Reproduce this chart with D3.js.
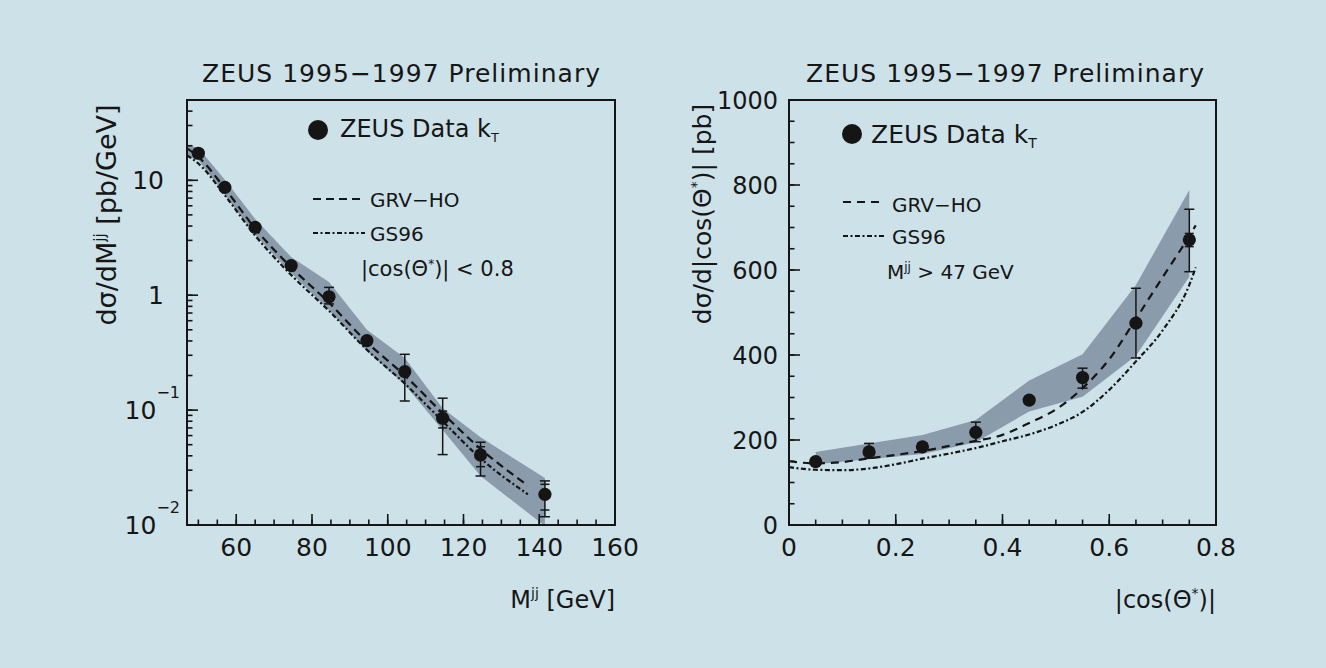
<!DOCTYPE html>
<html><head><meta charset="utf-8">
<script src="https://cdn.jsdelivr.net/npm/d3@7"></script>
<style>
html,body{margin:0;padding:0;background:#cde2e8;}
svg{display:block;}
text{font-family:"DejaVu Sans",sans-serif;fill:#161616;}
</style></head><body>
<svg id="c" width="1326" height="668"></svg>
<script>
// ---------- Left panel: d sigma / d M^jj ----------
const massBins   = [50, 57, 65, 74.5, 84.5, 94.5, 104.5, 114.5, 124.5, 141.5];
const massXsec   = [17.2, 8.69, 3.9, 1.81, 0.97, 0.402, 0.216, 0.085, 0.0407, 0.0185];
const massTotHi  = [18.4, 9.3, 4.15, 1.93, 1.17, 0.43, 0.306, 0.127, 0.0525, 0.0242];
const massTotLo  = [16.1, 8.1, 3.67, 1.70, 0.84, 0.375, 0.120, 0.041, 0.0267, 0.0118];
const massStatHi = [18.4, 9.3, 4.15, 1.93, 1.17, 0.43, 0.306, 0.098, 0.048, 0.0226];
const massStatLo = [16.1, 8.1, 3.67, 1.70, 0.84, 0.375, 0.120, 0.070, 0.0322, 0.0135];
const massBandX  = [47, 50, 57, 65, 74.5, 84.5, 94.5, 104.5, 114.5, 124.5, 141.5];
const massBandHi = [20.5, 19.1, 10.1, 4.6, 2.15, 1.30, 0.50, 0.284, 0.104, 0.058, 0.0256];
const massBandLo = [16.0, 15.0, 7.45, 3.34, 1.56, 0.74, 0.327, 0.166, 0.067, 0.0267, 0.0098];
const massCurveX = [47, 50, 57, 65, 74.5, 84.5, 94.5, 104.5, 114.5, 124.5, 137];
const massGRV    = [19, 16, 8.5, 3.8, 1.75, 0.86, 0.39, 0.2, 0.094, 0.046, 0.022];
const massGS96   = [16.5, 14, 7.4, 3.3, 1.5, 0.73, 0.335, 0.17, 0.08, 0.038, 0.0185];
const massTickLabels = [60, 80, 100, 120, 140, 160];
const xsecTickValues = [10, 1, 0.1, 0.01];
const xsecTickBase   = ["10", "1", "10", "10"];
const xsecTickExp    = ["", "", "\u22121", "\u22122"];

// ---------- Right panel: d sigma / d|cos theta*| ----------
const angBins    = [0.05, 0.15, 0.25, 0.35, 0.45, 0.55, 0.65, 0.75];
const angXsec    = [149, 172, 184, 218, 294, 347, 475, 671];
const angTotHi   = [157, 192, 192, 242, 302, 369, 557, 743];
const angTotLo   = [141, 157, 176, 196, 286, 322, 393, 596];
const angStatHi  = [157, 192, 192, 242, 302, 369, 557, 686];
const angStatLo  = [141, 157, 176, 196, 286, 322, 393, 655];
const angBandHi  = [172, 192, 212, 247, 340, 402, 565, 788];
const angBandLo  = [143, 155, 167, 195, 267, 302, 398, 584];
const angCurveX  = [0, 0.05, 0.1, 0.15, 0.2, 0.25, 0.3, 0.35, 0.4, 0.45, 0.5, 0.55, 0.6, 0.65, 0.7, 0.75, 0.762];
const angGRV     = [150, 145, 148, 157, 165, 174, 186, 198, 212, 240, 272, 322, 390, 485, 583, 680, 705];
const angGS96    = [136, 130, 129, 133, 143, 156, 168, 181, 197, 213, 235, 266, 318, 385, 458, 565, 606];
const angTickLabels = ["0", "0.2", "0.4", "0.6", "0.8"];
const angTickValues = [0, 0.2, 0.4, 0.6, 0.8];
const xsecLinTicks  = [0, 200, 400, 600, 800, 1000];

const INK = "#151515", BAND = "#8a9bab";
const svg = d3.select("#c");

const xL = d3.scaleLinear().domain([47, 160]).range([187, 615]);
const yL = d3.scaleLog().domain([0.01, 50]).range([525, 100]);
const xR = d3.scaleLinear().domain([0, 0.8]).range([789, 1216]);
const yR = d3.scaleLinear().domain([0, 1000]).range([525, 100]);

const defs = svg.append("defs");
defs.append("clipPath").attr("id", "clipL").append("rect").attr("x", 187).attr("y", 100).attr("width", 428).attr("height", 425);
defs.append("clipPath").attr("id", "clipR").append("rect").attr("x", 789).attr("y", 100).attr("width", 427).attr("height", 425);

function drawPanel(o) {
  const g = svg.append("g");
  const [x0, x1] = o.x.range(), [y0, y1] = o.y.range();
  const pg = g.append("g").attr("clip-path", `url(#${o.clip})`);
  // band
  const area = d3.area().x((d, i) => o.x(o.bandX[i])).y0((d, i) => o.y(o.bandLo[i])).y1((d, i) => o.y(o.bandHi[i]));
  pg.append("path").datum(o.bandX).attr("d", area).attr("fill", BAND);
  // curves
  const mk = arr => d3.line().x((d, i) => o.x(o.curveX[i])).y((d, i) => o.y(arr[i])).curve(d3.curveMonotoneX);
  pg.append("path").datum(o.curveX).attr("d", mk(o.grv)).attr("fill", "none").attr("stroke", INK).attr("stroke-width", 2.2).attr("stroke-dasharray", o.dash);
  pg.append("path").datum(o.curveX).attr("d", mk(o.gs)).attr("fill", "none").attr("stroke", INK).attr("stroke-width", 2.2).attr("stroke-dasharray", "5,2.5,2,2.5");
  // error bars
  o.bins.forEach((b, i) => {
    const cx = o.x(b);
    pg.append("line").attr("x1", cx).attr("x2", cx).attr("y1", o.y(o.totHi[i])).attr("y2", o.y(o.totLo[i])).attr("stroke", INK).attr("stroke-width", 1.5);
    [o.totHi[i], o.totLo[i]].forEach(v => pg.append("line").attr("x1", cx - 5).attr("x2", cx + 5).attr("y1", o.y(v)).attr("y2", o.y(v)).attr("stroke", INK).attr("stroke-width", 1.5));
    if (o.statHi[i] !== o.totHi[i]) [o.statHi[i], o.statLo[i]].forEach(v => pg.append("line").attr("x1", cx - 4.5).attr("x2", cx + 4.5).attr("y1", o.y(v)).attr("y2", o.y(v)).attr("stroke", INK).attr("stroke-width", 1.5));
    pg.append("circle").attr("cx", cx).attr("cy", o.y(o.vals[i])).attr("r", 6.6).attr("fill", INK);
  });
  // ticks (inside)
  o.xMinor.forEach(v => g.append("line").attr("x1", o.x(v)).attr("x2", o.x(v)).attr("y1", y0).attr("y2", y0 - 5.5).attr("stroke", INK).attr("stroke-width", 1.6));
  o.xMajor.forEach(v => g.append("line").attr("x1", o.x(v)).attr("x2", o.x(v)).attr("y1", y0).attr("y2", y0 - 11).attr("stroke", INK).attr("stroke-width", 1.6));
  o.yMinor.forEach(v => g.append("line").attr("x1", x0).attr("x2", x0 + 5.5).attr("y1", o.y(v)).attr("y2", o.y(v)).attr("stroke", INK).attr("stroke-width", 1.6));
  o.yMajor.forEach(v => g.append("line").attr("x1", x0).attr("x2", x0 + 11).attr("y1", o.y(v)).attr("y2", o.y(v)).attr("stroke", INK).attr("stroke-width", 1.6));
  // frame
  g.append("rect").attr("x", x0).attr("y", y1).attr("width", x1 - x0).attr("height", y0 - y1).attr("fill", "none").attr("stroke", INK).attr("stroke-width", 2);
  // x tick labels
  o.xLabVals.forEach((v, i) => g.append("text").attr("x", o.x(v)).attr("y", 556).attr("text-anchor", "middle").attr("font-size", 25).text(o.xLabText[i]));
  // title
  g.append("text").attr("x", o.titleX).attr("y", 82).attr("font-size", 25).attr("textLength", 398).attr("lengthAdjust", "spacing").text("ZEUS 1995\u22121997  Preliminary");
  return g;
}

// Left
const gL = drawPanel({
  x: xL, y: yL, clip: "clipL", bandX: massBandX, bandHi: massBandHi, bandLo: massBandLo,
  curveX: massCurveX, grv: massGRV, gs: massGS96, dash: "8,5",
  bins: massBins, vals: massXsec, totHi: massTotHi, totLo: massTotLo, statHi: massStatHi, statLo: massStatLo,
  xMinor: d3.range(50, 160, 5), xMajor: massTickLabels,
  yMinor: yL.ticks().filter(v => v >= 0.01 && v <= 50), yMajor: xsecTickValues,
  xLabVals: massTickLabels, xLabText: massTickLabels.map(String), titleX: 202
});
xsecTickValues.forEach((v, i) => {
  const t = gL.append("text").attr("y", yL(v) + 9).attr("text-anchor", "end").attr("font-size", 25);
  t.attr("x", xsecTickExp[i] ? 180 : 164);
  t.append("tspan").text(xsecTickBase[i]);
  if (xsecTickExp[i]) t.append("tspan").attr("dy", -21).attr("font-size", 16).text(xsecTickExp[i]);
});
// y label left
{
  const t = gL.append("text").attr("transform", "translate(116,215) rotate(-90)").attr("text-anchor", "middle").attr("font-size", 27);
  t.append("tspan").text("d\u03c3/dM");
  t.append("tspan").attr("dy", -11).attr("font-size", 15).text("jj");
  t.append("tspan").attr("dy", 11).text(" [pb/GeV]");
}
// x label left
{
  const t = gL.append("text").attr("x", 615).attr("y", 608).attr("text-anchor", "end").attr("font-size", 24);
  t.append("tspan").text("M");
  t.append("tspan").attr("dy", -10).attr("font-size", 14).text("jj");
  t.append("tspan").attr("dy", 10).text(" [GeV]");
}
// legend left
gL.append("circle").attr("cx", 318).attr("cy", 130).attr("r", 10).attr("fill", INK);
{
  const t = gL.append("text").attr("x", 340).attr("y", 137).attr("font-size", 24);
  t.append("tspan").text("ZEUS Data k");
  t.append("tspan").attr("dy", 5).attr("font-size", 13).text("T");
}
gL.append("line").attr("x1", 313).attr("x2", 364).attr("y1", 199).attr("y2", 199).attr("stroke", INK).attr("stroke-width", 2.2).attr("stroke-dasharray", "8,5");
gL.append("text").attr("x", 370).attr("y", 207).attr("font-size", 20).text("GRV\u2212HO");
gL.append("line").attr("x1", 313).attr("x2", 365).attr("y1", 233).attr("y2", 233).attr("stroke", INK).attr("stroke-width", 2.2).attr("stroke-dasharray", "5,2.5,2,2.5");
gL.append("text").attr("x", 370).attr("y", 241).attr("font-size", 20).text("GS96");
{
  const t = gL.append("text").attr("x", 361).attr("y", 276).attr("font-size", 21);
  t.append("tspan").text("|cos(\u0398");
  t.append("tspan").attr("dy", -8).attr("font-size", 12).text("*");
  t.append("tspan").attr("dy", 8).text(")| < 0.8");
}

// Right
const gR = drawPanel({
  x: xR, y: yR, clip: "clipR", bandX: angBins, bandHi: angBandHi, bandLo: angBandLo,
  curveX: angCurveX, grv: angGRV, gs: angGS96, dash: "8,6",
  bins: angBins, vals: angXsec, totHi: angTotHi, totLo: angTotLo, statHi: angStatHi, statLo: angStatLo,
  xMinor: d3.range(0.05, 0.8, 0.05), xMajor: angTickValues,
  yMinor: d3.range(50, 1000, 50), yMajor: xsecLinTicks,
  xLabVals: angTickValues, xLabText: angTickLabels, titleX: 806
});
xsecLinTicks.forEach(v => gR.append("text").attr("x", 778).attr("y", yR(v) + 9).attr("text-anchor", "end").attr("font-size", 24).text(String(v)));
{
  const t = gR.append("text").attr("transform", "translate(711,214) rotate(-90)").attr("text-anchor", "middle").attr("font-size", 25);
  t.append("tspan").text("d\u03c3/d|cos(\u0398");
  t.append("tspan").attr("dy", -10).attr("font-size", 14).text("*");
  t.append("tspan").attr("dy", 10).text(")| [pb]");
}
{
  const t = gR.append("text").attr("x", 1216).attr("y", 608).attr("text-anchor", "end").attr("font-size", 24);
  t.append("tspan").text("|cos(\u0398");
  t.append("tspan").attr("dy", -10).attr("font-size", 14).text("*");
  t.append("tspan").attr("dy", 10).text(")|");
}
gR.append("circle").attr("cx", 852).attr("cy", 134).attr("r", 10).attr("fill", INK);
{
  const t = gR.append("text").attr("x", 871).attr("y", 143).attr("font-size", 25);
  t.append("tspan").text("ZEUS Data k");
  t.append("tspan").attr("dy", 5).attr("font-size", 14).text("T");
}
gR.append("line").attr("x1", 843).attr("x2", 880).attr("y1", 202).attr("y2", 202).attr("stroke", INK).attr("stroke-width", 2.2).attr("stroke-dasharray", "8,6");
gR.append("text").attr("x", 892).attr("y", 212).attr("font-size", 20).text("GRV\u2212HO");
gR.append("line").attr("x1", 843).attr("x2", 885).attr("y1", 236).attr("y2", 236).attr("stroke", INK).attr("stroke-width", 2.2).attr("stroke-dasharray", "5,2.5,2,2.5");
gR.append("text").attr("x", 892).attr("y", 244).attr("font-size", 20).text("GS96");
{
  const t = gR.append("text").attr("x", 887).attr("y", 279).attr("font-size", 20);
  t.append("tspan").text("M");
  t.append("tspan").attr("dy", -8).attr("font-size", 12).text("jj");
  t.append("tspan").attr("dy", 8).text(" > 47 GeV");
}
</script>
</body></html>
